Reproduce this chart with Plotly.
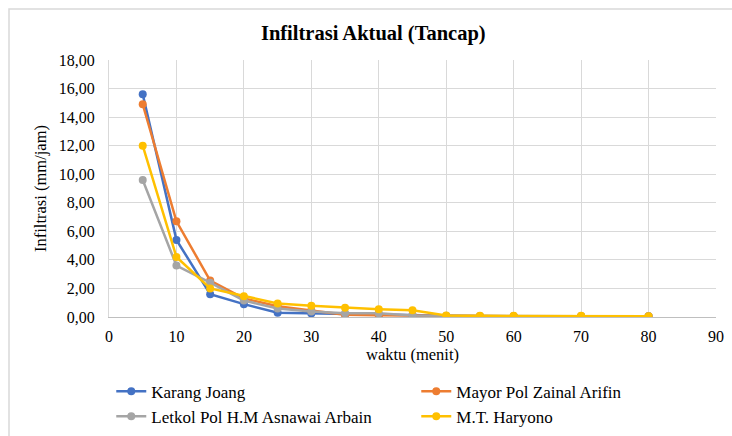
import plotly.graph_objects as go

waktu = [5, 10, 15, 20, 25, 30, 35, 40, 45, 50, 55, 60, 70, 80]
karang_joang = [15.60, 5.40, 1.60, 0.90, 0.30, 0.25, 0.20, 0.15, 0.10, 0.05, 0.05, 0.05, 0.05, 0.05]
mayor_pol = [14.90, 6.70, 2.55, 1.30, 0.75, 0.45, 0.15, 0.12, 0.10, 0.05, 0.05, 0.05, 0.05, 0.05]
letkol_pol = [9.60, 3.60, 2.40, 1.15, 0.60, 0.38, 0.27, 0.26, 0.10, 0.08, 0.06, 0.06, 0.05, 0.05]
mt_haryono = [12.00, 4.20, 2.00, 1.45, 0.95, 0.78, 0.65, 0.55, 0.48, 0.10, 0.08, 0.08, 0.08, 0.05]

series = [
    ("Karang Joang", karang_joang, "#4472C4"),
    ("Mayor Pol Zainal Arifin", mayor_pol, "#ED7D31"),
    ("Letkol Pol H.M Asnawai Arbain", letkol_pol, "#A5A5A5"),
    ("M.T. Haryono", mt_haryono, "#FFC000"),
]

serif = "Liberation Serif"

fig = go.Figure()
for name, vals, color in series:
    fig.add_trace(go.Scatter(
        x=waktu, y=vals, name=name, mode="lines+markers",
        line=dict(color=color, width=2.5),
        marker=dict(color=color, size=8),
    ))

# outer chart border (Excel chart area)
fig.add_shape(type="rect", xref="paper", yref="paper",
              x0=(9 - 109) / 607, x1=(745 - 109) / 607,
              y0=(317 - 445) / 257, y1=(317 - 9) / 257,
              line=dict(color="#D9D9D9", width=1.5), fillcolor="rgba(0,0,0,0)",
              layer="below")

fig.update_layout(
    width=732, height=436,
    margin=dict(l=109, r=16, t=60, b=119, autoexpand=False),
    paper_bgcolor="white", plot_bgcolor="white",
    separators=",.",
    title=dict(text="<b>Infiltrasi Aktual (Tancap)</b>", x=0.51, xanchor="center",
               y=0.925, yanchor="middle",
               font=dict(family=serif, size=20.5, color="#000000")),
    font=dict(family=serif, size=16, color="#000000"),
    showlegend=True,
    legend=dict(orientation="h", xref="container", yref="container",
                x=0.152, xanchor="left", y=0.143, yanchor="top",
                entrywidth=260, entrywidthmode="pixels",
                font=dict(family=serif, size=17, color="#000000"),
                itemwidth=30, tracegroupgap=0, bgcolor="rgba(0,0,0,0)"),
    xaxis=dict(range=[0, 90], dtick=10, tick0=0,
               showgrid=True, gridcolor="#D9D9D9", gridwidth=1,
               showline=True, linecolor="#BFBFBF", linewidth=1,
               zeroline=False, ticks="", ticklabelstandoff=5,
               tickfont=dict(family=serif, size=16),
               title=dict(text="waktu (menit)", font=dict(family=serif, size=16.5), standoff=2)),
    yaxis=dict(range=[0, 18], dtick=2, tick0=0, tickformat=".2f",
               showgrid=True, gridcolor="#D9D9D9", gridwidth=1,
               showline=True, linecolor="#D9D9D9", linewidth=1,
               zeroline=False, ticks="", ticklabelstandoff=10,
               tickfont=dict(family=serif, size=16),
               title=dict(text="Infiltrasi (mm/jam)", font=dict(family=serif, size=16.5), standoff=8)),
)

fig.write_html("out.html")
